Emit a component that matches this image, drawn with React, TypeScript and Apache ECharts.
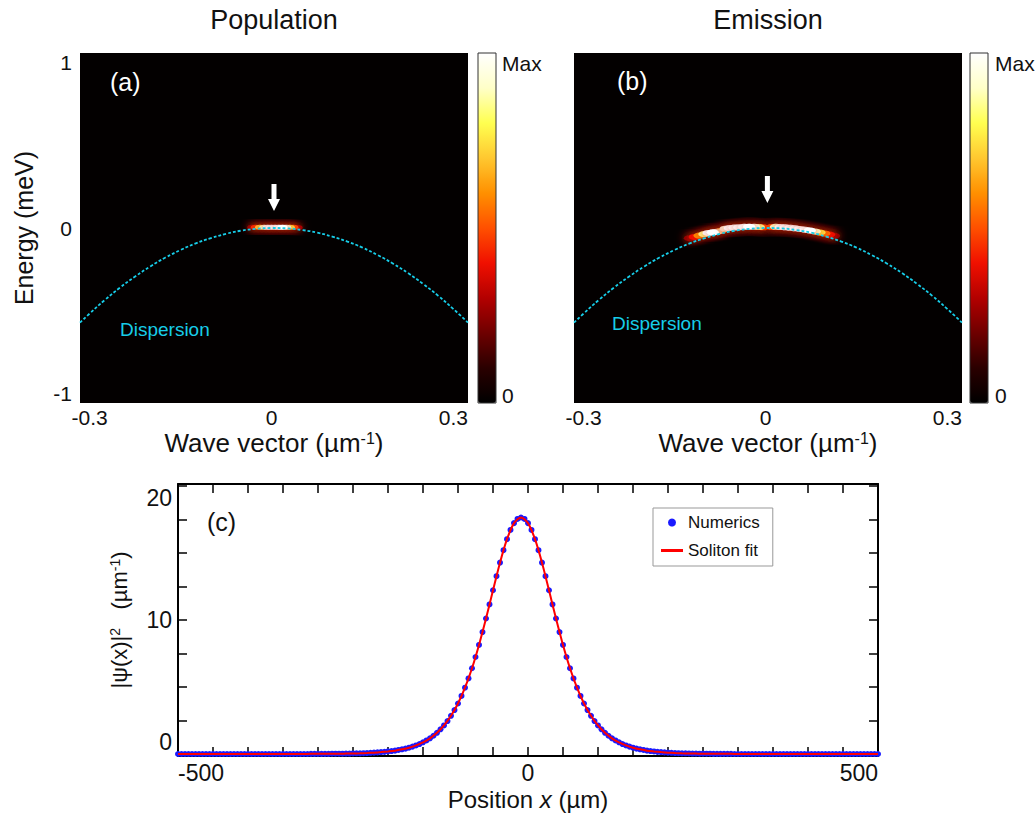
import React, { useEffect, useRef } from 'react';
import * as echarts from 'echarts';

const FONT = '"Liberation Sans", Arial, Helvetica, sans-serif';

// ---------- Panels (a) and (b): energy vs wave vector ----------
const K_MIN = -0.316;
const K_MAX = 0.324;
const E_MIN = -1.06;
const E_MAX = 1.06;
const kTickLabels = [-0.3, 0, 0.3];
const eTickLabels = [-1, 0, 1];

// Dispersion curve (wave vector, energy)
const dispersionK = [-0.316, -0.3, -0.275, -0.25, -0.225, -0.2, -0.175, -0.15, -0.125, -0.1, -0.075, -0.05, -0.025, 0, 0.025, 0.05, 0.075, 0.1, 0.125, 0.15, 0.175, 0.2, 0.225, 0.25, 0.275, 0.3, 0.324];
const dispersionE = [-0.573, -0.518, -0.436, -0.361, -0.294, -0.233, -0.179, -0.133, -0.093, -0.061, -0.035, -0.016, -0.005, 0.0, -0.002, -0.012, -0.028, -0.052, -0.082, -0.119, -0.164, -0.215, -0.273, -0.339, -0.411, -0.491, -0.573];

// Bright spots of the maps: [k, E, relative intensity]
const populationSpots = [
  [-0.032, 0.005, 0.25], [-0.026, 0.005, 0.45], [-0.019, 0.005, 0.7], [-0.012, 0.005, 0.9],
  [-0.006, 0.005, 1], [0.0, 0.005, 1], [0.006, 0.005, 1], [0.012, 0.005, 1], [0.018, 0.005, 1],
  [0.024, 0.005, 0.95], [0.03, 0.004, 0.75], [0.036, 0.004, 0.5], [0.043, 0.003, 0.28],
];
const emissionSpots = [
  [-0.125, -0.062, 0.25], [-0.117, -0.054, 0.4], [-0.109, -0.046, 0.6], [-0.101, -0.037, 0.85],
  [-0.094, -0.03, 1], [-0.087, -0.026, 1], [-0.08, -0.022, 0.9], [-0.073, -0.016, 0.7],
  [-0.066, -0.004, 0.95], [-0.059, 0.0, 1], [-0.051, 0.003, 1], [-0.043, 0.005, 1],
  [-0.035, 0.007, 1], [-0.027, 0.008, 1], [-0.019, 0.008, 0.95], [-0.011, 0.006, 0.85],
  [-0.004, 0.004, 0.5],
  [0.01, 0.006, 0.5], [0.017, 0.007, 0.9], [0.025, 0.006, 1], [0.033, 0.004, 1],
  [0.041, 0.001, 1], [0.049, -0.002, 1], [0.057, -0.006, 1], [0.065, -0.01, 1],
  [0.073, -0.015, 1], [0.081, -0.021, 0.9], [0.089, -0.027, 0.75], [0.097, -0.033, 0.55],
  [0.105, -0.04, 0.4], [0.113, -0.047, 0.25],
];

// Arrow markers (centre of arrow, in k / E)
const arrowA = [0.004, 0.185];
const arrowB = [0.003, 0.233];

// ---------- Panel (c): density profile ----------
const POS_START = -500;
const NUM_STEP = 5;
const FIT_STEP = 10;
const posTicks = [-500, -450, -400, -350, -300, -250, -200, -150, -100, -50, 0, 50, 100, 150, 200, 250, 300, 350, 400, 450, 500];
const posTickLabels = [-500, 0, 500];
const densityTicks = [0, 2.5, 5, 7.5, 10, 12.5, 15, 17.5, 20];
const densityTickLabels = [0, 10, 20];

// Numerics: |psi(x)|^2 sampled every 5 um from -500 to 500
const numericsDensity = [
  0, 0, 0, 0, 0, 0, 0, 0, 0, 0,
  0, 0, 0, 0, 0, 0, 0, 0, 0, 0,
  0, 0, 0, 0, 0, 0, 0, 0, 0, 0,
  0, 0, 0, 0, 0, 0, 0, 0,
  0.01, 0.01, 0.01, 0.01, 0.01, 0.01, 0.02, 0.02, 0.02, 0.02,
  0.03, 0.03, 0.04, 0.05, 0.05, 0.06, 0.07, 0.09, 0.10, 0.12,
  0.14, 0.16, 0.19, 0.22, 0.25, 0.30, 0.35, 0.40, 0.47, 0.55,
  0.64, 0.74, 0.87, 1.01, 1.17, 1.36, 1.58, 1.84, 2.13, 2.46,
  2.85, 3.28, 3.77, 4.33, 4.95, 5.64, 6.40, 7.24, 8.14, 9.10,
  10.11, 11.16, 12.22, 13.27, 14.28, 15.21, 16.03, 16.72, 17.23, 17.54,
  17.65, 17.54, 17.23, 16.72, 16.03, 15.21, 14.28, 13.27, 12.22, 11.16,
  10.11, 9.10, 8.14, 7.24, 6.40, 5.64, 4.95, 4.33, 3.77, 3.28,
  2.85, 2.46, 2.13, 1.84, 1.58, 1.36, 1.17, 1.01, 0.87, 0.74,
  0.64, 0.55, 0.47, 0.40, 0.35, 0.30, 0.25, 0.22, 0.19, 0.16,
  0.14, 0.12, 0.10, 0.09, 0.07, 0.06, 0.05, 0.05, 0.04, 0.03,
  0.03, 0.02, 0.02, 0.02, 0.02, 0.01, 0.01, 0.01, 0.01, 0.01,
  0.01,
  0, 0, 0, 0, 0, 0, 0, 0, 0, 0,
  0, 0, 0, 0, 0, 0, 0, 0, 0, 0,
  0, 0, 0, 0, 0, 0, 0, 0, 0, 0,
  0, 0, 0, 0, 0, 0, 0, 0, 0, 0,
  0, 0,
];

// Soliton fit sampled every 10 um from -500 to 500
const solitonFitDensity = [
  0, 0, 0, 0, 0, 0, 0, 0, 0, 0,
  0, 0, 0, 0, 0, 0, 0, 0, 0,
  0.01, 0.01, 0.01, 0.02, 0.02, 0.03, 0.04, 0.05, 0.07, 0.10,
  0.14, 0.19, 0.25, 0.35, 0.47, 0.64, 0.87, 1.17, 1.58, 2.13,
  2.85, 3.77, 4.95, 6.40, 8.14, 10.11, 12.22, 14.28, 16.03, 17.23,
  17.65, 17.23, 16.03, 14.28, 12.22, 10.11, 8.14, 6.40, 4.95, 3.77,
  2.85, 2.13, 1.58, 1.17, 0.87, 0.64, 0.47, 0.35, 0.25, 0.19,
  0.14, 0.10, 0.07, 0.05, 0.04, 0.03, 0.02, 0.02, 0.01, 0.01,
  0.01,
  0, 0, 0, 0, 0, 0, 0, 0, 0, 0,
  0, 0, 0, 0, 0, 0, 0, 0, 0, 0,
  0,
];

const HOT = ['#000000', '#2a0000', '#6e0000', '#b30000', '#f01000', '#ff5000', '#ff9000', '#ffc830', '#ffff50', '#ffffc8', '#ffffff'];
const CYAN = '#17cde8';
const ELLIPSE = 'path://M0,5a10,5 0 1,0 20,0a10,5 0 1,0 -20,0z';
const ARROW = 'path://M3.5,0 L8.5,0 L8.5,15 L12,15 L6,27 L0,15 L3.5,15 Z';
const LINE_ICON = 'path://M0,0H22V3H0Z';

const byIntensity = (arr: number[][]) => [...arr].sort((p, q) => p[2] - q[2]);

const txt = (text: string, x: number, y: number, size: number, fill: string, align = 'left') => ({
  type: 'text',
  x,
  y,
  z: 100,
  silent: true,
  style: {
    text,
    fill,
    fontSize: size,
    fontFamily: FONT,
    textAlign: align,
    align,
    textVerticalAlign: 'middle',
    verticalAlign: 'middle',
  },
});

const waveName = '{n|Wave vector (µm}{s|-1}{n|)}';
const nameRich = {
  n: { fontSize: 26, fontFamily: FONT, color: '#111' },
  s: { fontSize: 16, fontFamily: FONT, color: '#111', verticalAlign: 'top' },
  i: { fontSize: 24, fontFamily: FONT, color: '#111', fontStyle: 'italic' },
  m: { fontSize: 24, fontFamily: FONT, color: '#111' },
  r: { fontSize: 22, fontFamily: FONT, color: '#111' },
  t: { fontSize: 14, fontFamily: FONT, color: '#111', verticalAlign: 'top' },
};

function mapAxes(grid: number, showY: boolean) {
  const x = {
    type: 'value',
    gridIndex: grid,
    min: K_MIN,
    max: K_MAX,
    axisLine: { show: false },
    axisTick: { show: false },
    splitLine: { show: false },
    axisLabel: { customValues: kTickLabels, fontSize: 21, fontFamily: FONT, color: '#111', margin: 4 },
    name: waveName,
    nameLocation: 'middle',
    nameGap: 27,
    nameTextStyle: { rich: nameRich },
  };
  const y = {
    type: 'value',
    gridIndex: grid,
    min: E_MIN,
    max: E_MAX,
    axisLine: { show: false },
    axisTick: { show: false },
    splitLine: { show: false },
    axisLabel: { show: showY, customValues: eTickLabels, fontSize: 21, fontFamily: FONT, color: '#111', margin: 8 },
    name: showY ? 'Energy (meV)' : '',
    nameLocation: 'middle',
    nameGap: 44,
    nameTextStyle: { fontSize: 25, fontFamily: FONT, color: '#111' },
  };
  return { x, y };
}

function mapSeries(axis: number, spots: number[][], arrow: number[], size: number[], blur: number) {
  return [
    {
      type: 'scatter',
      xAxisIndex: axis,
      yAxisIndex: axis,
      data: byIntensity(spots),
      symbol: ELLIPSE,
      symbolSize: size,
      itemStyle: { opacity: 1, shadowBlur: blur, shadowColor: 'rgba(220,35,0,1)' },
      silent: true,
      z: 2,
    },
    {
      type: 'line',
      xAxisIndex: axis,
      yAxisIndex: axis,
      data: dispersionK.map((k, i) => [k, dispersionE[i]]),
      symbol: 'none',
      smooth: true,
      lineStyle: { color: CYAN, width: 1.8, type: [3, 2] },
      silent: true,
      z: 3,
    },
    {
      type: 'scatter',
      xAxisIndex: axis,
      yAxisIndex: axis,
      data: [arrow],
      symbol: ARROW,
      symbolSize: [12, 27],
      itemStyle: { color: '#ffffff', opacity: 1 },
      silent: true,
      z: 4,
    },
  ];
}

function visual(seriesIndex: number, left: number) {
  return {
    type: 'continuous',
    seriesIndex,
    dimension: 2,
    min: 0,
    max: 1,
    left,
    top: 53,
    itemWidth: 18,
    itemHeight: 350,
    padding: 0,
    calculable: false,
    hoverLink: false,
    inRange: { color: HOT },
    textStyle: { fontSize: 0 },
    text: ['', ''],
    textGap: 0,
  };
}

export default function App() {
  const ref = useRef<HTMLDivElement>(null);

  useEffect(() => {
    if (!ref.current) return;
    const chart = echarts.init(ref.current, undefined, { renderer: 'svg' });
    const A = mapAxes(0, true);
    const B = mapAxes(1, false);

    const frameAxis = { onZero: false, lineStyle: { color: '#000', width: 2 } };
    const tickStyle = { lineStyle: { color: '#000', width: 1.5 } };

    const option: any = {
      animation: false,
      backgroundColor: '#ffffff',
      textStyle: { fontFamily: FONT },
      grid: [
        { left: 80, top: 53, width: 388, height: 350, show: true, backgroundColor: '#030000', borderWidth: 0 },
        { left: 574, top: 53, width: 388, height: 350, show: true, backgroundColor: '#030000', borderWidth: 0 },
        { left: 178, top: 484, width: 700, height: 272, show: false },
      ],
      xAxis: [
        A.x,
        B.x,
        {
          type: 'value', gridIndex: 2, min: -500, max: 500, position: 'bottom',
          axisLine: frameAxis,
          axisTick: { inside: true, length: 9, customValues: posTicks, ...tickStyle },
          splitLine: { show: false },
          axisLabel: { customValues: posTickLabels, fontSize: 23, fontFamily: FONT, color: '#111', margin: 5, alignMinLabel: 'left', alignMaxLabel: 'right' },
          name: '{m|Position }{i|x}{m| (µm)}',
          nameLocation: 'middle',
          nameGap: 31,
          nameTextStyle: { rich: nameRich },
        },
        {
          type: 'value', gridIndex: 2, min: -500, max: 500, position: 'top',
          axisLine: frameAxis,
          axisTick: { inside: true, length: 9, customValues: posTicks, ...tickStyle },
          splitLine: { show: false },
          axisLabel: { show: false },
        },
      ],
      yAxis: [
        A.y,
        B.y,
        {
          type: 'value', gridIndex: 2, min: -0.15, max: 20.15, position: 'left',
          axisLine: frameAxis,
          axisTick: { inside: true, length: 9, customValues: densityTicks, ...tickStyle },
          splitLine: { show: false },
          axisLabel: {
            customValues: densityTickLabels, fontSize: 23, fontFamily: FONT, color: '#111', margin: 6,
            verticalAlignMaxLabel: 'top', verticalAlignMinLabel: 'bottom',
          },
          name: '{r||ψ(x)|}{t|2}{r|   (µm}{t|-1}{r|)}',
          nameLocation: 'middle',
          nameGap: 48,
          nameTextStyle: { rich: nameRich },
        },
        {
          type: 'value', gridIndex: 2, min: -0.15, max: 20.15, position: 'right',
          axisLine: frameAxis,
          axisTick: { inside: true, length: 9, customValues: densityTicks, ...tickStyle },
          splitLine: { show: false },
          axisLabel: { show: false },
        },
      ],
      visualMap: [visual(0, 478), visual(3, 970)],
      legend: {
        left: 653,
        top: 508,
        orient: 'vertical',
        padding: [6, 13, 7, 8],
        itemGap: 11,
        itemWidth: 22,
        itemHeight: 8,
        borderColor: '#999',
        borderWidth: 1,
        backgroundColor: '#fff',
        selectedMode: false,
        textStyle: { fontSize: 17, fontFamily: FONT, color: '#111' },
        data: [{ name: 'Numerics', icon: 'circle' }, { name: 'Soliton fit', icon: LINE_ICON }],
      },
      series: [
        ...mapSeries(0, populationSpots, arrowA, [10, 5], 8),
        ...mapSeries(1, emissionSpots, arrowB, [12, 6], 10),
        {
          name: 'Numerics',
          type: 'scatter',
          xAxisIndex: 2,
          yAxisIndex: 2,
          data: numericsDensity.map((v, i) => [POS_START + i * NUM_STEP, v]),
          symbolSize: 6,
          itemStyle: { color: '#1a1aff', opacity: 1 },
          silent: true,
          z: 2,
        },
        {
          name: 'Soliton fit',
          type: 'line',
          xAxisIndex: 2,
          yAxisIndex: 2,
          data: solitonFitDensity.map((v, i) => [POS_START + i * FIT_STEP, v]),
          symbol: 'none',
          smooth: 0.3,
          lineStyle: { color: '#ff0000', width: 2 },
          itemStyle: { color: '#ff0000' },
          silent: true,
          z: 3,
        },
      ],
      graphic: {
        elements: [
          txt('Population', 274, 20, 27, '#111', 'center'),
          txt('Emission', 768, 20, 27, '#111', 'center'),
          txt('(a)', 110, 82, 25, '#ffffff'),
          txt('(b)', 617, 81, 25, '#ffffff'),
          txt('(c)', 207, 522, 25, '#111'),
          txt('Dispersion', 120, 329, 19, CYAN),
          txt('Dispersion', 612, 323, 19, CYAN),
          txt('Max', 502, 63, 21, '#111'),
          txt('0', 502, 395, 21, '#111'),
          txt('Max', 995, 63, 21, '#111'),
          txt('0', 995, 395, 21, '#111'),
          { type: 'rect', z: 100, silent: true, shape: { x: 478, y: 53, width: 18, height: 350 }, style: { fill: 'none', stroke: '#333', lineWidth: 1 } },
          { type: 'rect', z: 100, silent: true, shape: { x: 970, y: 53, width: 18, height: 350 }, style: { fill: 'none', stroke: '#333', lineWidth: 1 } },
        ],
      },
    };

    chart.setOption(option);
    return () => chart.dispose();
  }, []);

  return <div ref={ref} style={{ position: 'absolute', left: 0, top: 0, width: 1036, height: 817, background: '#fff' }} />;
}
